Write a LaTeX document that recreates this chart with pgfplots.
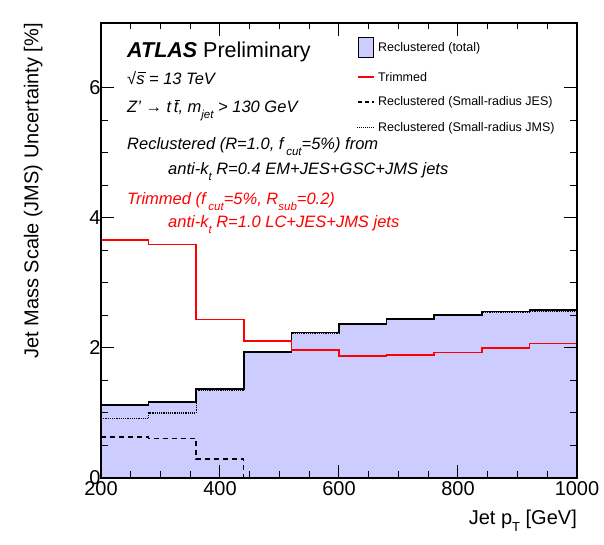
\documentclass[border=0pt]{standalone}
\usepackage{fontspec}
\setmainfont{Liberation Sans}
\usepackage{pgfplots}
\pgfplotsset{compat=1.18}
\definecolor{fillc}{RGB}{204,204,255}
\newcommand{\fs}[1]{\fontsize{#1}{#1}\selectfont}
\newcommand{\sub}[2][11.5]{\raisebox{-0.6ex}{\fs{#1}#2}}
\newcommand{\ovl}[1]{\setbox0\hbox{#1}\rlap{\kern0.08em\raisebox{0.74em}{\rule{\wd0}{0.06em}}}\box0\relax}
\begin{document}
\begin{tikzpicture}[x=1pt,y=1pt]
\useasboundingbox (-101,-67) rectangle (503,478);
\begin{axis}[name=ax, at={(0,0)}, anchor=south west,
  width=476pt, height=455pt, scale only axis,
  xmin=200, xmax=1000, ymin=0, ymax=7,
  xtick={200,400,...,1000}, ytick={0,2,4,6},
  minor x tick num=3, minor y tick num=3,
  tick align=inside,
  major tick length=13pt, minor tick length=6.5pt,
  axis line style={line width=1.1pt},
  every tick/.style={black, line width=1pt},
  ticklabel style={font=\fs{20}},
  /pgf/number format/assume math mode=true,
  /pgf/number format/1000 sep={},
  yticklabel style={xshift=3pt},
  axis on top, clip=false,
]
\addplot[fill=fillc, draw=none, const plot mark left] coordinates {
(200,1.12) (280,1.17) (360,1.37) (440,1.94) (520,2.24) (600,2.37) (680,2.45) (760,2.51) (840,2.56) (920,2.58) (1000,2.58)} \closedcycle;
\addplot[black, line width=1.2pt, densely dotted, const plot mark left] coordinates {
(200,0.91) (280,1.00) (360,1.34) (440,1.93) (520,2.23) (600,2.36) (680,2.44) (760,2.50) (840,2.55) (920,2.57) (1000,2.57)};
\addplot[black, line width=1.6pt, const plot mark left] coordinates {
(200,1.12) (280,1.17) (360,1.37) (440,1.94) (520,2.24) (600,2.37) (680,2.45) (760,2.51) (840,2.56) (920,2.58) (1000,2.58)};
\addplot[black, line width=1.4pt, dash pattern=on 5pt off 4pt, const plot mark left] coordinates {
(200,0.63) (280,0.61) (360,0.29) (440,0)};
\addplot[red, line width=1.6pt, sharp plot] coordinates {
(200,3.66) (280,3.66) (280,3.59) (360,3.59) (360,2.44) (440,2.44) (440,2.11) (520,2.11) (520,1.97) (600,1.97) (600,1.88) (680,1.88) (680,1.89) (760,1.89) (760,1.93) (840,1.93) (840,2.00) (920,2.00) (920,2.07) (1000,2.07)};
\end{axis}
\begin{scope}[shift={(-101,478)}, yscale=-1]
  % axis titles
  \node[anchor=base east, inner sep=0pt, font=\fs{20}] at (577,525) {Jet p\sub[13]{T} [GeV]};
  \node[anchor=base east, inner sep=0pt, rotate=90, font=\fs{20}] at (38.5,23) {Jet Mass Scale (JMS) Uncertainty [\%]};
  % text
  \node[anchor=base west, inner sep=0pt, font=\fs{21.5}] at (127,58) {\textbf{\textit{ATLAS}} Preliminary};
  \node[anchor=base west, inner sep=0pt, font=\fs{16.5}\itshape] at (127,85) {√\ovl{s} = 13 TeV};
  \node[anchor=base west, inner sep=0pt, font=\fs{16.5}\itshape] at (127,113) {Z' → t\,\ovl{t}, m\sub{jet} > 130 GeV};
  \node[anchor=base west, inner sep=0pt, font=\fs{16.5}\itshape] at (127,150) {Reclustered (R=1.0, f\,\sub{cut}=5\%) from};
  \node[anchor=base west, inner sep=0pt, font=\fs{16.5}\itshape] at (168,175) {anti-k\sub{t} R=0.4 EM+JES+GSC+JMS jets};
  \node[anchor=base west, inner sep=0pt, font=\fs{16.5}\itshape, text=red] at (127,205) {Trimmed (f\,\sub{cut}=5\%, R\sub{sub}=0.2)};
  \node[anchor=base west, inner sep=0pt, font=\fs{16.5}\itshape, text=red] at (168,228) {anti-k\sub{t} R=1.0 LC+JES+JMS jets};
  % legend
  \draw[fill=fillc, line width=1pt] (358,38) rectangle (373,58);
  \node[anchor=west, inner sep=0pt, font=\fs{12.5}] at (378,48) {Reclustered (total)};
  \draw[red, line width=1.3pt] (358,77) -- (374,77);
  \node[anchor=west, inner sep=0pt, font=\fs{12.5}] at (378,77) {Trimmed};
  \draw[black, line width=1.2pt, dash pattern=on 4pt off 3pt] (358,102) -- (374,102);
  \node[anchor=west, inner sep=0pt, font=\fs{12.5}] at (378,102) {Reclustered (Small-radius JES)};
  \draw[black, line width=1pt, densely dotted] (357,128) -- (374,128);
  \node[anchor=west, inner sep=0pt, font=\fs{12.5}] at (378,128) {Reclustered (Small-radius JMS)};
\end{scope}
\end{tikzpicture}
\end{document}
